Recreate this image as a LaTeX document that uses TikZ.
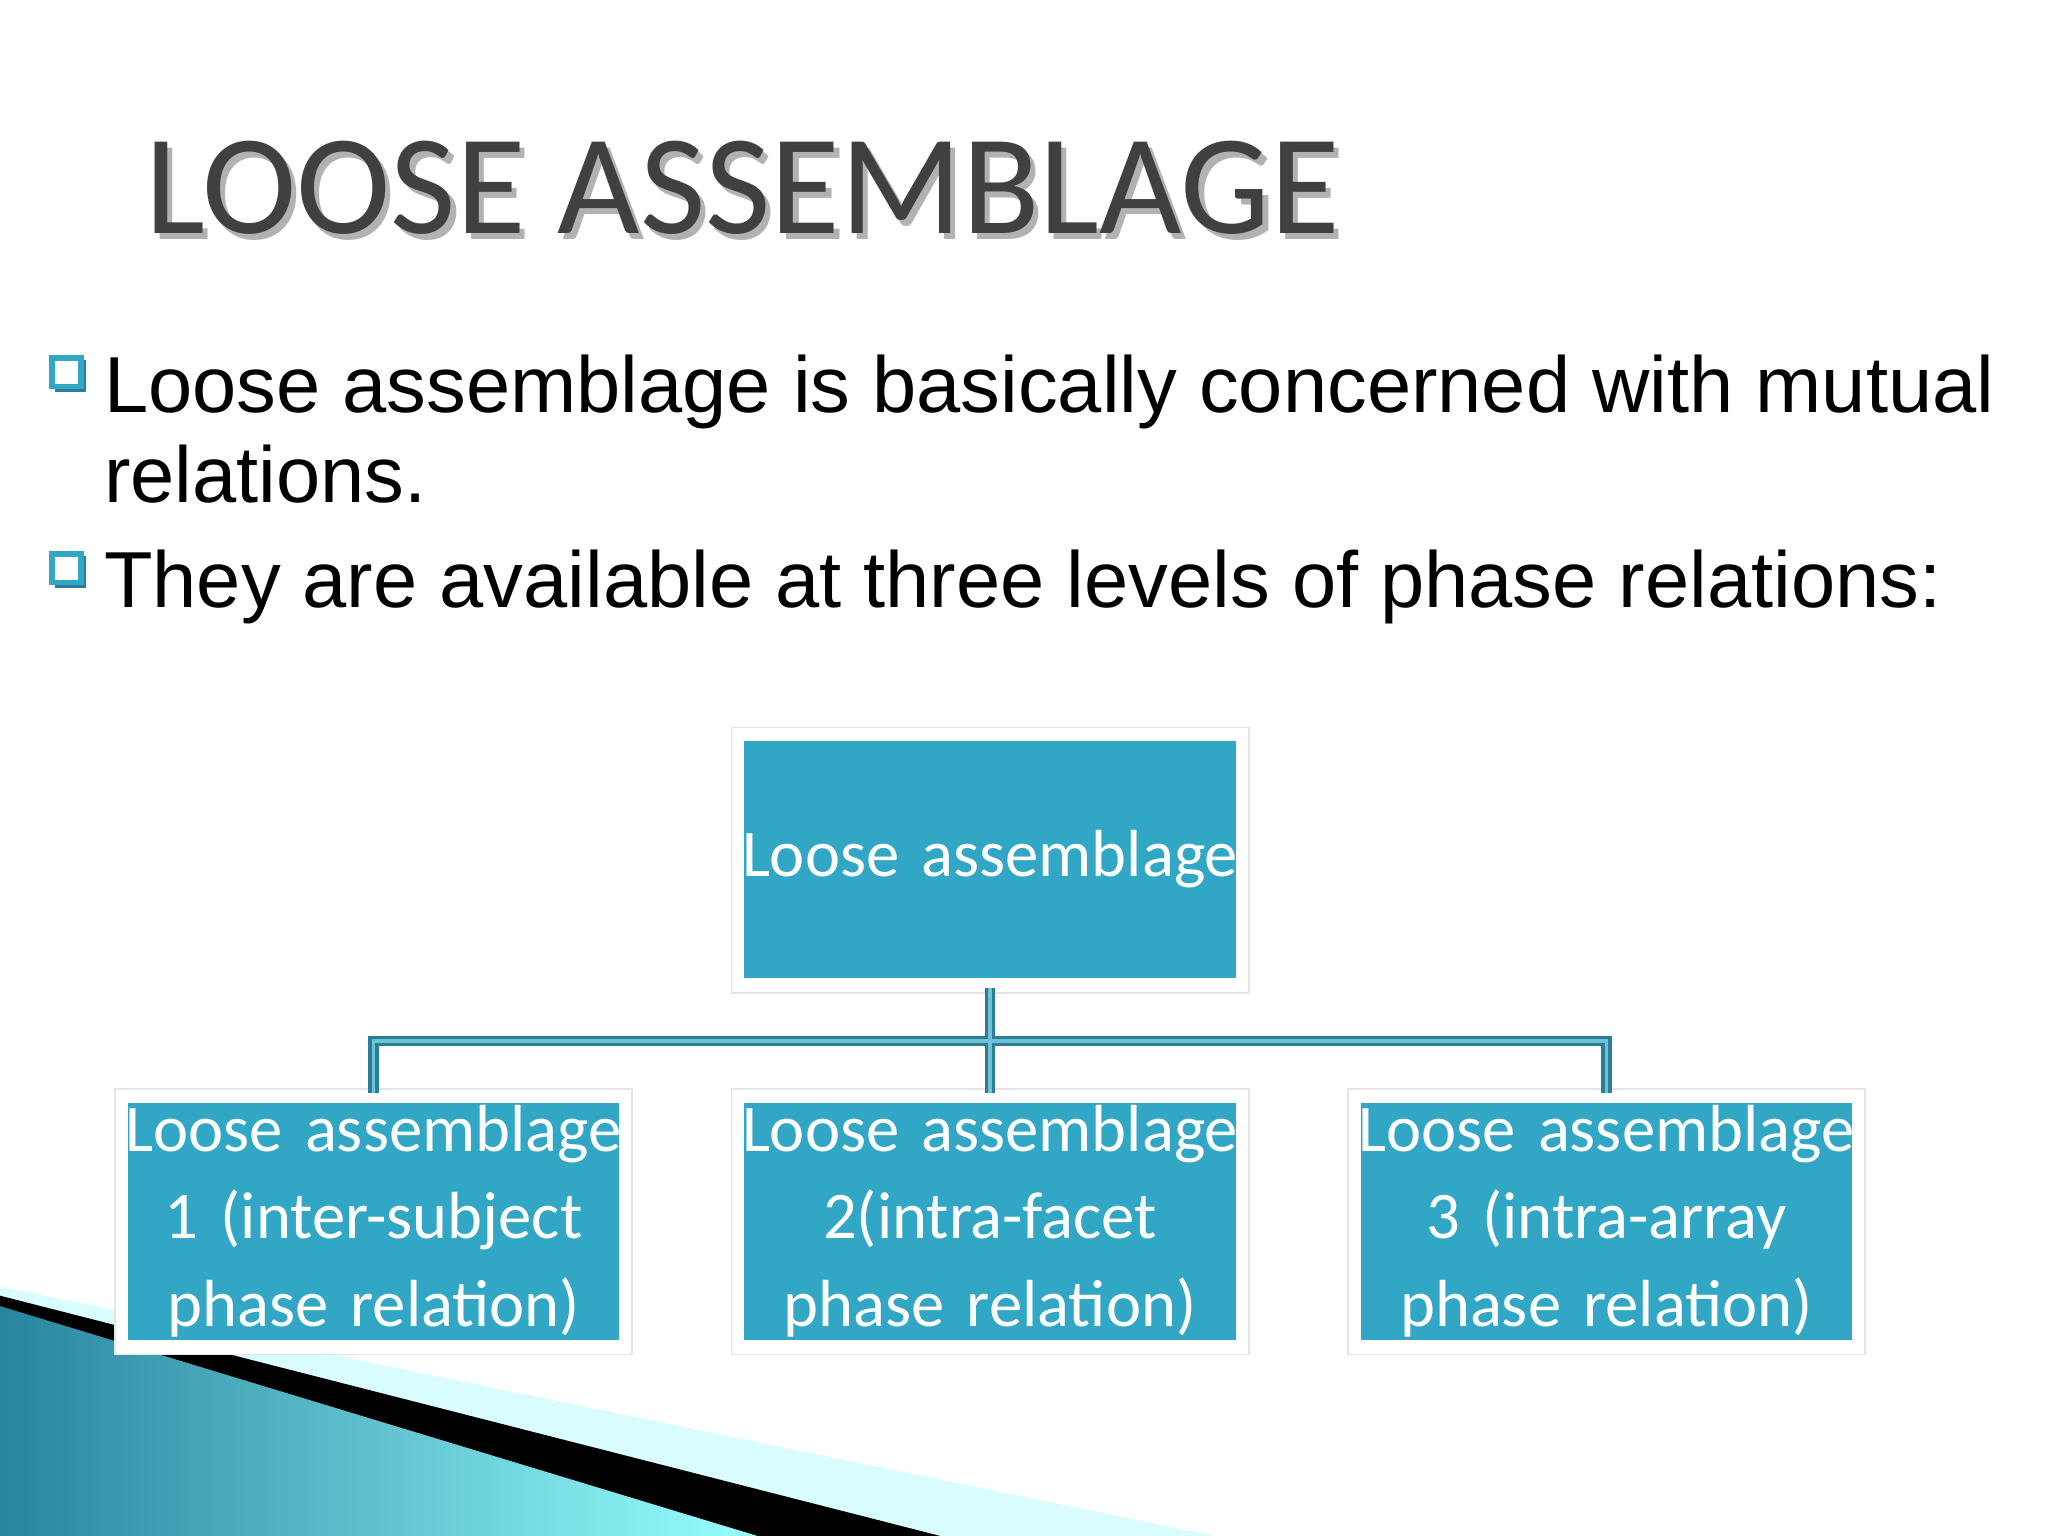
\documentclass[tikz,border=0pt]{standalone}
\usepackage{fontspec}
\setmainfont{Liberation Sans}
\newfontfamily\carlitofont{Carlito}
\definecolor{teal1}{HTML}{31A7C5}
\definecolor{tealdark}{HTML}{2C7E98}
\definecolor{titlegray}{HTML}{404040}
\begin{document}
\begin{tikzpicture}[x=0.01cm,y=-0.01cm,
  boxst/.style={draw=white,line width=2.2pt,fill=teal1,minimum width=3.84cm,inner sep=0pt,
    text=white,font=\carlitofont\fontsize{14.5}{19}\selectfont,align=center,text width=3.8cm},
  frame/.style={draw=black!10,fill=white},
  conn/.style={draw=tealdark,line width=2.2pt},
  conni/.style={draw=teal1!70!white,line width=0.7pt}]
\useasboundingbox (0,0) rectangle (1568,1176);
% decoration
\fill[black!10!blue!5!cyan!15] (0,985) -- (930,1176) -- (0,1176) -- cycle;
\fill[black] (0,992) -- (720,1176) -- (0,1176) -- cycle;
\shade[left color=teal1!80!black, right color=cyan!40!white] (0,1000) -- (580,1176) -- (0,1176) -- cycle;
% title
\node[anchor=base west,text=black!30,font=\carlitofont\fontsize{31}{36}\selectfont] at (103,183) {LOOSE ASSEMBLAGE};
\node[anchor=base west,text=titlegray,font=\carlitofont\fontsize{31}{36}\selectfont] (title) at (99,179) {LOOSE ASSEMBLAGE};
% bullets
\foreach \y/\n in {287/b1,437/b2}{
  \fill[tealdark] (42,\y-11) rectangle (66,\y+13);
  \fill[white] (40,\y-13) rectangle (62,\y+9);
  \draw[teal1,line width=1.2pt] (40,\y-13) rectangle (62,\y+9);
}
\node[anchor=base west,font=\fontsize{17.3}{20}\selectfont,inner sep=0pt] (t1) at (79,316) {Loose assemblage is basically concerned with mutual};
\node[anchor=base west,font=\fontsize{17.3}{20}\selectfont,inner sep=0pt] (t2) at (79,385) {relations.};
\node[anchor=base west,font=\fontsize{17.3}{20}\selectfont,inner sep=0pt] (t3) at (79,465) {They are available at three levels of phase relations:};
% frames
\foreach \x in {758}{\draw[frame] (\x-198,557) rectangle (\x+198,760);}
\foreach \x in {286,758,1230}{\draw[frame] (\x-198,834) rectangle (\x+198,1037);}
% connectors
\coordinate (j) at (758,797);
\coordinate (l) at (286,797);
\coordinate (r) at (1230,797);
\node[boxst,minimum height=1.89cm] (top) at (758,658) {Loose assemblage};
\node[boxst,minimum height=1.89cm] (c1) at (286,935) {Loose assemblage 1 (inter-subject phase relation)};
\node[boxst,minimum height=1.89cm] (c2) at (758,935) {Loose assemblage 2(intra-facet phase relation)};
\node[boxst,minimum height=1.89cm] (c3) at (1230,935) {Loose assemblage 3 (intra-array phase relation)};
\foreach \s in {conn,conni}{
  \draw[\s] (top.south) -- (c2.north);
  \draw[\s] (c1.north) -- (l) -- (r) -- (c3.north);
}
\end{tikzpicture}
\end{document}
